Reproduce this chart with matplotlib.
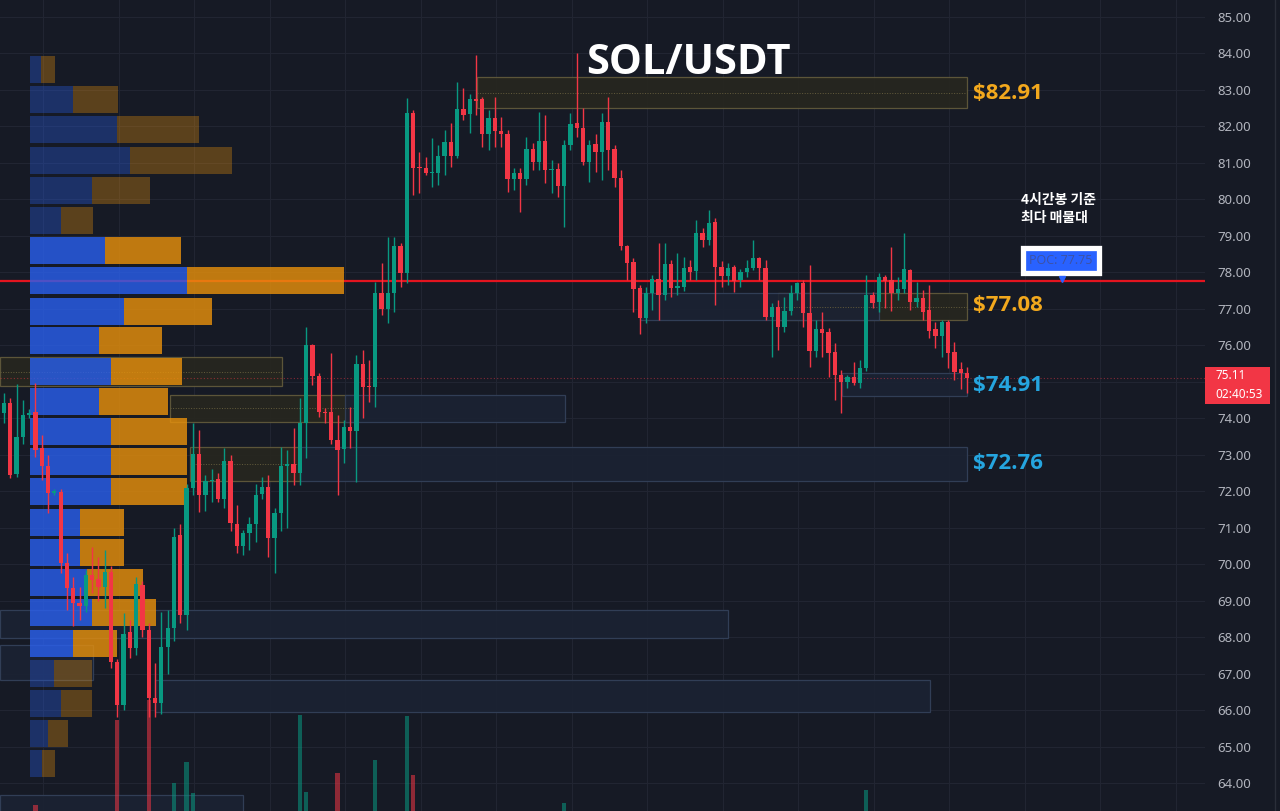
import matplotlib
matplotlib.use('Agg')
import matplotlib.pyplot as plt
from matplotlib.patches import Rectangle
from matplotlib.transforms import blended_transform_factory, Affine2D
import numpy as np

plt.rcParams['font.family'] = ['Noto Sans', 'Noto Sans CJK KR', 'DejaVu Sans']

# 4h candles SOL/USDT
opens = [74.14, 74.43, 72.48, 73.50, 74.10, 74.17, 73.18, 72.70, 71.95, 71.98,
         70.03, 69.35, 68.93, 68.85, 69.70, 69.60, 69.38, 69.80, 67.32, 66.14,
         68.14, 67.70, 69.43, 68.20, 66.33, 66.20, 67.73, 68.25, 70.80, 68.60,
         72.10, 73.02, 71.90, 72.28, 72.33, 71.80, 72.83, 71.10, 70.50, 70.85,
         71.10, 71.93, 72.12, 70.72, 71.40, 72.70, 72.75, 72.50, 73.87, 76.00,
         75.16, 74.18, 74.17, 73.40, 73.15, 73.76, 73.65, 75.50, 74.86, 74.85,
         77.43, 77.00, 77.43, 78.73, 77.98, 82.37, 80.86, 80.85, 80.73, 80.73,
         81.20, 81.57, 81.19, 82.48, 82.33, 82.75, 82.75, 81.80, 82.23, 81.87,
         81.80, 80.56, 80.72, 80.56, 81.38, 81.03, 81.60, 80.80, 80.83, 80.37,
         81.49, 82.10, 81.96, 81.03, 81.52, 81.30, 82.12, 81.38, 80.59, 78.72,
         78.28, 77.57, 76.75, 77.43, 77.82, 77.38, 78.22, 77.57, 77.60, 78.14,
         78.03, 79.07, 78.88, 79.38, 78.15, 77.90, 78.15, 77.78, 78.00, 78.13,
         78.40, 78.13, 76.78, 77.05, 76.50, 76.94, 77.43, 77.70, 76.89, 75.84,
         76.45, 76.37, 75.82, 75.19, 75.00, 75.13, 74.97, 75.38, 77.38, 77.19,
         77.87, 77.79, 77.43, 77.54, 78.07, 77.19, 77.30, 76.97, 76.45, 76.26,
         76.64, 75.82, 75.35, 75.24]
highs = [74.69, 74.55, 74.95, 74.50, 74.25, 74.97, 73.55, 73.00, 72.05, 72.05,
         70.30, 69.65, 69.38, 69.85, 70.47, 70.20, 70.40, 69.95, 67.40, 68.66,
         68.47, 69.65, 69.55, 68.40, 67.30, 68.70, 68.74, 70.99, 71.10, 72.20,
         73.87, 73.68, 72.45, 72.60, 72.50, 73.18, 73.00, 71.62, 70.95, 71.30,
         72.20, 72.40, 72.45, 71.55, 73.21, 73.13, 73.73, 74.55, 76.50, 76.05,
         75.24, 74.28, 75.80, 74.10, 73.95, 74.30, 75.73, 75.87, 75.60, 77.74,
         78.25, 78.97, 78.97, 78.80, 82.78, 82.45, 81.30, 81.16, 81.68, 81.49,
         81.90, 82.09, 83.22, 83.05, 82.90, 83.95, 82.80, 82.45, 82.80, 82.26,
         81.90, 80.86, 80.86, 81.71, 81.54, 82.40, 82.30, 81.08, 81.00, 81.63,
         82.37, 84.00, 82.50, 81.63, 81.80, 82.37, 82.80, 81.50, 80.80, 78.75,
         78.39, 77.65, 77.60, 77.93, 78.80, 78.80, 78.34, 78.53, 78.43, 78.34,
         79.43, 79.22, 79.70, 79.50, 78.30, 78.25, 78.20, 78.10, 78.34, 78.88,
         78.42, 78.34, 77.15, 77.24, 77.33, 77.65, 77.74, 77.80, 78.20, 76.69,
         76.91, 76.47, 76.06, 75.32, 75.19, 75.55, 75.60, 77.93, 77.46, 77.98,
         77.93, 78.70, 77.87, 79.08, 78.10, 77.74, 77.52, 77.65, 76.64, 76.69,
         76.69, 76.10, 75.55, 75.40]
lows = [73.87, 72.37, 72.40, 73.30, 74.00, 72.95, 72.30, 71.40, 71.90, 69.75,
        68.75, 68.30, 68.47, 68.70, 69.20, 69.00, 68.80, 67.15, 65.80, 66.00,
        67.43, 67.50, 68.00, 65.80, 65.80, 65.90, 67.00, 67.90, 68.40, 68.20,
        71.90, 71.43, 71.45, 71.70, 71.70, 71.55, 70.90, 70.30, 70.25, 70.40,
        70.60, 71.80, 70.20, 69.75, 70.90, 71.00, 72.17, 72.17, 72.90, 74.91,
        74.04, 73.87, 73.30, 71.90, 72.77, 73.18, 72.25, 74.00, 74.45, 74.31,
        76.83, 76.60, 76.91, 77.60, 77.70, 80.12, 80.17, 80.67, 80.34, 80.40,
        80.67, 80.89, 81.13, 82.18, 81.82, 82.30, 81.44, 81.35, 81.44, 81.44,
        80.20, 80.26, 79.65, 80.40, 80.80, 80.80, 80.45, 80.17, 80.07, 79.24,
        81.35, 81.71, 80.94, 80.48, 80.75, 80.53, 80.81, 80.34, 78.60, 77.80,
        76.90, 76.30, 76.60, 76.96, 76.70, 77.24, 77.33, 77.38, 77.50, 77.79,
        77.80, 78.70, 78.75, 77.10, 77.60, 77.65, 77.46, 77.60, 77.87, 78.06,
        77.79, 76.70, 75.68, 75.87, 76.37, 76.83, 77.24, 76.50, 75.40, 75.68,
        75.68, 75.13, 74.50, 74.15, 74.83, 74.91, 74.83, 75.30, 77.02, 76.92,
        77.02, 76.95, 77.24, 77.43, 76.97, 77.05, 76.69, 76.20, 75.93, 75.68,
        75.38, 75.05, 74.80, 74.70]
closes = [74.42, 72.45, 73.50, 74.10, 74.15, 73.13, 72.70, 71.95, 72.00, 70.03,
          69.35, 68.93, 68.85, 69.70, 69.57, 69.38, 69.80, 67.32, 66.14, 68.10,
          67.70, 69.45, 68.20, 66.33, 66.20, 67.73, 68.25, 70.75, 68.60, 72.10,
          73.02, 71.90, 72.28, 72.32, 71.80, 72.83, 71.13, 70.50, 70.85, 71.10,
          71.90, 72.13, 70.72, 71.40, 72.70, 72.75, 72.50, 73.87, 76.00, 75.16,
          74.17, 74.15, 73.40, 73.13, 73.76, 73.65, 75.50, 74.86, 74.85, 77.43,
          77.00, 77.43, 78.73, 77.98, 82.37, 80.86, 80.85, 80.73, 80.75, 81.20,
          81.57, 81.19, 82.48, 82.30, 82.75, 82.70, 81.80, 82.23, 81.87, 81.80,
          80.56, 80.72, 80.56, 81.38, 81.03, 81.60, 80.80, 80.82, 80.37, 81.49,
          82.07, 81.96, 81.03, 81.49, 81.30, 82.12, 81.35, 80.59, 78.72, 78.25,
          77.54, 76.75, 77.43, 77.82, 77.38, 78.22, 77.57, 77.62, 78.12, 78.00,
          79.07, 78.88, 79.35, 78.15, 77.90, 78.12, 77.76, 78.00, 78.13, 78.40,
          78.13, 76.78, 77.05, 76.50, 76.94, 77.43, 77.70, 76.89, 75.84, 76.45,
          76.34, 75.79, 75.19, 75.00, 75.13, 74.97, 75.38, 77.38, 77.16, 77.87,
          77.76, 77.43, 77.54, 78.10, 77.19, 77.30, 76.92, 76.40, 76.26, 76.64,
          75.79, 75.27, 75.24, 75.11]
volumes = [18, 22, 15, 12, 9, 36, 14, 20, 8, 26,
           19, 17, 10, 13, 11, 9, 14, 27, 121, 25,
           16, 21, 18, 141, 22, 20, 17, 58, 24, 79,
           48, 23, 12, 9, 11, 19, 21, 14, 10, 12,
           17, 13, 22, 18, 20, 11, 12, 126, 49, 25,
           19, 8, 22, 68, 14, 11, 27, 18, 9, 81,
           21, 24, 23, 15, 125, 66, 17, 10, 9, 12,
           14, 13, 26, 15, 12, 19, 18, 14, 13, 9,
           21, 8, 13, 17, 10, 16, 15, 8, 11, 38,
           16, 24, 18, 12, 9, 17, 15, 13, 27, 16,
           19, 22, 14, 12, 16, 15, 11, 8, 10, 9,
           18, 8, 13, 24, 12, 9, 10, 8, 7, 11,
           10, 23, 17, 18, 11, 12, 9, 15, 25, 14,
           9, 16, 21, 19, 8, 10, 11, 51, 9, 13,
           8, 14, 7, 20, 15, 8, 11, 16, 9, 12,
           15, 13, 9, 6]

# volume profile (visible range)
vp_price = [83.56, 82.73, 81.91, 81.08, 80.25, 79.42, 78.60, 77.77, 76.94, 76.12,
            75.29, 74.46, 73.63, 72.81, 71.98, 71.15, 70.32, 69.50, 68.67, 67.84,
            67.01, 66.19, 65.36, 64.53]
vp_up = [11, 43, 87, 100, 62, 31, 75, 157, 94, 69, 81, 69, 81, 81, 81, 50,
         50, 57, 62, 43, 24, 31, 18, 12]
vp_down = [14, 45, 82, 102, 58, 32, 76, 157, 88, 63, 71, 69, 76, 76, 76, 44,
           44, 56, 64, 44, 38, 31, 20, 13]
va_lo, va_hi = 6, 19
poc = 77.75

# zones: start bar, end bar, top, bottom, kind
zone_start = [75.2, 123.0, 101.0, 133.1, -0.7, 26.4, 54.2, 29.6, 47.0, -0.7, -0.7, 24.0, -0.7]
zone_end = [153.0, 153.0, 139.0, 153.0, 44.2, 55.8, 89.1, 47.0, 153.0, 115.0, 14.1, 147.1, 38.0]
zone_top = [83.36, 77.43, 77.43, 75.24, 75.68, 74.64, 74.64, 73.21, 73.21, 68.74, 67.78, 66.83, 63.67]
zone_bot = [82.50, 76.69, 76.69, 74.61, 74.88, 73.90, 73.90, 72.28, 72.28, 67.99, 66.83, 65.95, 63.00]
zone_kind = ['o', 'o', 'b', 'b', 'o', 'o', 'b', 'o', 'b', 'b', 'b', 'b', 'b']

lvl_text = ['$82.91', '$77.08', '$74.91', '$72.76']
lvl_price = [82.91, 77.08, 74.91, 72.76]
lvl_color = ['#f2a81d', '#f2a81d', '#25a5df', '#25a5df']

# price scale (75.00 sits under the last-price tag)
scale_ticks = [64, 65, 66, 67, 68, 69, 70, 71, 72, 73, 74, 76, 77, 78, 79, 80, 81, 82, 83, 84, 85]

bg = '#161a25'
green = '#089981'
red = '#f23645'

fig = plt.figure(figsize=(12.8, 8.11), dpi=100, facecolor=bg)
ax = fig.add_axes([0, 0, 1205 / 1280, 1])
ax.set_facecolor(bg)
for s in ax.spines.values():
    s.set_visible(False)

n = len(opens)
x = np.arange(n)
o = np.array(opens); h = np.array(highs); l = np.array(lows); c = np.array(closes)
col = np.where(c >= o, green, red)

# grid
for p in range(64, 86):
    ax.axhline(p, color='#212532', lw=0.8, zorder=0)
for gx in np.arange(6.2, 191, 12):
    ax.axvline(gx, color='#212532', lw=0.8, zorder=0)

# zones
for xs, xe, zt, zb, k in zip(zone_start, zone_end, zone_top, zone_bot, zone_kind):
    if k == 'o':
        fc, ec = '#27271f', '#645c3c'
    else:
        fc, ec = '#1b2233', '#34425b'
    ax.add_patch(Rectangle((xs, zb), xe - xs, zt - zb, facecolor=fc, edgecolor=ec,
                           lw=0.9, alpha=0.9, zorder=1))
    if k == 'o':
        ax.plot([xs, xe], [(zt + zb) / 2] * 2, color=ec, lw=0.7, ls=':', zorder=1.1)

# POC line
ax.plot([-0.7, 191], [poc, poc], color='#e3141f', lw=1.6, zorder=1.8)

# volume profile, x in pixel-like units from the left edge
vp_tr = blended_transform_factory(Affine2D().translate(30, 0).scale(1 / 1205, 1) + ax.transAxes,
                                  ax.transData)
for i, (pp, u, d) in enumerate(zip(vp_price, vp_up, vp_down)):
    a = 0.8 if va_lo <= i <= va_hi else 0.33
    ax.barh(pp, u, height=0.74, left=0, color='#2a60ef', alpha=a, transform=vp_tr,
            zorder=2, linewidth=0)
    ax.barh(pp, d, height=0.74, left=u, color='#ea920b', alpha=a, transform=vp_tr,
            zorder=2, linewidth=0)

# volume bars at the bottom
vol_tr = blended_transform_factory(ax.transData,
                                   Affine2D().translate(0, -30).scale(1, 1 / 811) + ax.transAxes)
ax.bar(x, volumes, width=0.68, color=col, alpha=0.55, transform=vol_tr, zorder=1.5, linewidth=0)

# candles
ax.vlines(x, l, h, colors=col, lw=1, zorder=4)
ax.bar(x, np.maximum(np.abs(c - o), 0.03), bottom=np.minimum(o, c), width=0.68,
       color=col, zorder=5, linewidth=0)

# last price line
ax.axhline(c[-1], color=red, lw=0.8, ls=(0, (1, 2)), alpha=0.5, zorder=1.2)

# level labels
for t, pp, cc in zip(lvl_text, lvl_price, lvl_color):
    ax.text(154.0, pp, t, color=cc, fontsize=16, fontweight='bold', ha='left',
            va='center', zorder=6, family=['Open Sans', 'DejaVu Sans'])

ax.text(0.571, 0.922, 'SOL/USDT', transform=ax.transAxes, color='white', fontsize=30,
        fontweight='bold', ha='center', va='center', family=['Open Sans', 'DejaVu Sans'])

ax.text(0.847, 0.762, '4시간봉 기준\n최다 매물대', transform=ax.transAxes, color='white',
        fontsize=10, fontweight='bold', ha='left', va='top', linespacing=1.35,
        family=['Noto Sans CJK KR', 'DejaVu Sans'])

ax.text(0.8805, 0.679, 'POC: 77.75', transform=ax.transAxes, color='#3d52a3', fontsize=9,
        ha='center', va='center', zorder=7, family=['Open Sans', 'DejaVu Sans'],
        bbox=dict(boxstyle='square,pad=0.5', fc='#2962ff', ec='white', lw=3.8))
ax.plot(168.1, 77.82, marker='v', color='#2962ff', ms=4, zorder=7)

# right price scale
ax.set_xticks([])
ax.yaxis.tick_right()
ax.set_yticks(scale_ticks)
ax.set_yticklabels(['%.2f' % v for v in scale_ticks])
ax.tick_params(axis='y', length=0, pad=9, labelcolor='#b2b5be', labelsize=9.5)

tr = blended_transform_factory(ax.transAxes, ax.transData)
ax.add_patch(Rectangle((1.0, 74.38), 0.054, 1.02, transform=tr, facecolor=red,
                       edgecolor='none', clip_on=False, zorder=8))
ax.text(1.0083, c[-1] + 0.05, '%.2f' % c[-1], transform=tr, color='white', fontsize=8.5,
        ha='left', va='center', zorder=9)
ax.text(1.0083, 74.64, '02:40:53', transform=tr, color='white', fontsize=8.5,
        ha='left', va='center', zorder=9)

fig.add_artist(plt.Line2D([1275 / 1280] * 2, [0, 1], color='#2a2e39', lw=1))

ax.set_xlim(-0.636, 190.82)
ax.set_ylim(63.235, 85.466)

plt.savefig('out.png', dpi=100, facecolor=bg)
